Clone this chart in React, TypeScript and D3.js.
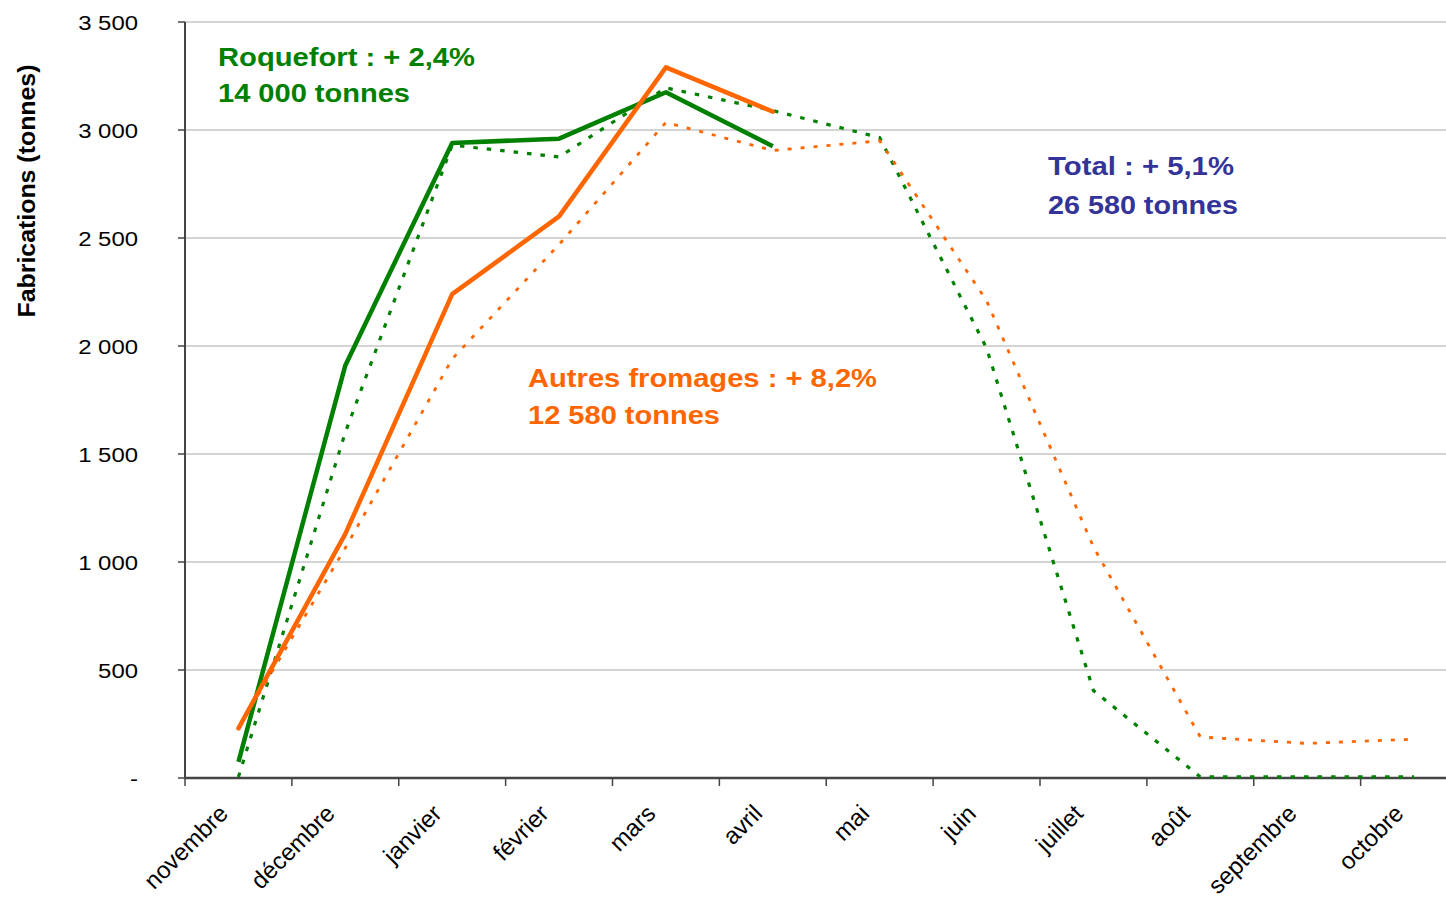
import React from "react";
import * as d3 from "d3";

const months = ["novembre", "décembre", "janvier", "février", "mars", "avril", "mai", "juin", "juillet", "août", "septembre", "octobre"];
// current campaign (solid)
const roquefortCurrent = [75, 1910, 2940, 2960, 3175, 2925];
const autresCurrent = [230, 1130, 2240, 2600, 3290, 3085];
// previous campaign (dotted)
const roquefortPrev = [5, 1600, 2930, 2875, 3195, 3090, 2965, 1990, 405, 5, 5, 5];
const autresPrev = [230, 1065, 1940, 2470, 3035, 2905, 2950, 2210, 1070, 190, 160, 180];
const yTicks = [0, 500, 1000, 1500, 2000, 2500, 3000, 3500];

const GREEN = "#008000";
const ORANGE = "#FF6600";
const BLUE = "#333399";
const FONT = "'Liberation Sans', Arial, sans-serif";

const fmt = (v: number) => (v === 0 ? "-" : d3.format(",")(v).replace(/,/g, " "));

export default function App() {
  const W = 1446, H = 898;
  const x = d3.scaleBand<string>().domain(months).range([185, 1467.5]).paddingInner(0).paddingOuter(0);
  const y = d3.scaleLinear().domain([0, 3500]).range([778, 22]);
  const cx = (m: string) => (x(m) as number) + x.bandwidth() / 2;

  const line = d3
    .line<number>()
    .x((_, i) => cx(months[i]))
    .y((d) => y(d));

  const boundaries = months.map((m) => x(m) as number).concat([x.range()[1]]);

  return (
    <svg width={W} height={H} style={{ position: "absolute", left: 0, top: 0, background: "#fff" }} fontFamily={FONT}>
      <rect x={0} y={0} width={W} height={H} fill="#fff" />
      {/* gridlines */}
      {yTicks.filter((t) => t > 0).map((t) => (
        <line key={"g" + t} x1={185} x2={W} y1={y(t)} y2={y(t)} stroke="#c6c6c6" strokeWidth={1.5} />
      ))}
      {/* y axis */}
      <line x1={185} x2={185} y1={y(3500)} y2={y(0)} stroke="#444" strokeWidth={2} />
      {yTicks.map((t) => (
        <g key={"yt" + t}>
          <line x1={178} x2={185} y1={y(t)} y2={y(t)} stroke="#444" strokeWidth={1.5} />
          <text
            transform={`translate(138,${y(t) + 7.5}) scale(1.14,1)`}
            textAnchor="end"
            fontSize={21}
            fill="#000"
          >
            {fmt(t)}
          </text>
        </g>
      ))}
      {/* x axis */}
      <line x1={185} x2={W} y1={y(0)} y2={y(0)} stroke="#444" strokeWidth={2.5} />
      {boundaries.map((b, i) => (
        <line key={"xt" + i} x1={b} x2={b} y1={y(0)} y2={y(0) + 8} stroke="#444" strokeWidth={1.5} />
      ))}
      {months.map((m) => (
        <text
          key={"xl" + m}
          transform={`translate(${cx(m) - 9},${815}) rotate(-45)`}
          textAnchor="end"
          fontSize={24}
          fill="#000"
        >
          {m}
        </text>
      ))}
      {/* y title */}
      <text
        transform={`translate(35,191) rotate(-90)`}
        textAnchor="middle"
        fontSize={23}
        fontWeight="bold"
        textLength={253}
        lengthAdjust="spacingAndGlyphs"
        fill="#000"
      >
        Fabrications (tonnes)
      </text>

      {/* series */}
      <path d={line(roquefortPrev) || ""} fill="none" stroke={GREEN} strokeWidth={3.2} strokeDasharray="4.5 9" />
      <path d={line(autresPrev) || ""} fill="none" stroke={ORANGE} strokeWidth={2.8} strokeDasharray="4 9" />
      <path d={line(roquefortCurrent) || ""} fill="none" stroke={GREEN} strokeWidth={4.5} strokeLinejoin="round" />
      <path d={line(autresCurrent) || ""} fill="none" stroke={ORANGE} strokeWidth={4.5} strokeLinejoin="round" strokeLinecap="round" />

      {/* annotations */}
      <g fontSize={25} fontWeight="bold">
        <text x={218} y={66} fill={GREEN} textLength={257} lengthAdjust="spacingAndGlyphs">Roquefort : + 2,4%</text>
        <text x={218} y={102} fill={GREEN} textLength={192} lengthAdjust="spacingAndGlyphs">14 000 tonnes</text>
        <text x={1048} y={175} fill={BLUE} textLength={186} lengthAdjust="spacingAndGlyphs">Total : + 5,1%</text>
        <text x={1048} y={214} fill={BLUE} textLength={190} lengthAdjust="spacingAndGlyphs">26 580 tonnes</text>
        <text x={528} y={387} fill={ORANGE} textLength={349} lengthAdjust="spacingAndGlyphs">Autres fromages : + 8,2%</text>
        <text x={528} y={424} fill={ORANGE} textLength={192} lengthAdjust="spacingAndGlyphs">12 580 tonnes</text>
      </g>
    </svg>
  );
}
